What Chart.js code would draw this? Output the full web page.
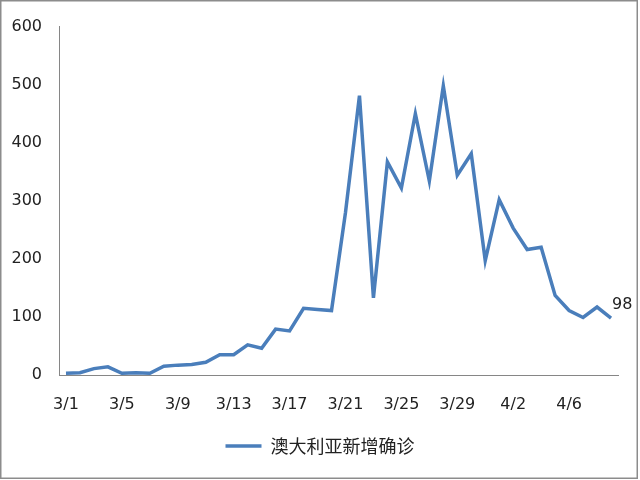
<!DOCTYPE html>
<html>
<head>
<meta charset="utf-8">
<script src="https://cdn.jsdelivr.net/npm/chart.js@4/dist/chart.umd.min.js"></script>
<style>
  html, body { margin: 0; padding: 0; background: #fff; }
  #wrap { width: 640px; height: 480px; }
</style>
</head>
<body>
<div id="wrap"><canvas id="lineChart" width="640" height="480"></canvas></div>
<script>
"use strict";

// dates 3/1 .. 4/9
const dates = [
  "3/1", "3/2", "3/3", "3/4", "3/5", "3/6", "3/7", "3/8", "3/9", "3/10",
  "3/11", "3/12", "3/13", "3/14", "3/15", "3/16", "3/17", "3/18", "3/19", "3/20",
  "3/21", "3/22", "3/23", "3/24", "3/25", "3/26", "3/27", "3/28", "3/29", "3/30",
  "3/31", "4/1", "4/2", "4/3", "4/4", "4/5", "4/6", "4/7", "4/8", "4/9",
];

// daily new confirmed cases
const newCases = [
  3, 4, 11, 14, 3, 4, 3, 15, 17, 18,
  22, 35, 35, 52, 46, 79, 76, 115, 113, 111,
  280, 481, 133, 367, 322, 450, 334, 498, 344, 381,
  197, 302, 253, 216, 220, 137, 111, 99, 117, 98,
];

const seriesName = "澳大利亚新增确诊";
const yMin = 0;
const yMax = 600;
const yStep = 100;

const lineColor = "#4a7ebb";
const textColor = "#222";
const axisColor = "#868686";

// label on the last point
const lastLabelPlugin = {
  id: "lastLabel",
  afterDatasetsDraw(chart) {
    const meta = chart.getDatasetMeta(0);
    const last = meta.data.length - 1;
    const pt = meta.data[last];
    const ctx = chart.ctx;
    ctx.save();
    ctx.font = "16px 'DejaVu Sans'";
    ctx.fillStyle = textColor;
    ctx.textAlign = "left";
    ctx.textBaseline = "middle";
    ctx.fillText(String(newCases[last]), pt.x + 1, pt.y - 13);
    ctx.restore();
  },
};

// centre the legend on the whole canvas, not only the padded box
const legendShiftPlugin = {
  id: "legendShift",
  afterLayout(chart) {
    if (chart.legend) {
      chart.legend.right += 22;
    }
  },
};

// white background + gray frame
const framePlugin = {
  id: "frame",
  beforeDraw(chart) {
    const ctx = chart.ctx;
    ctx.save();
    ctx.fillStyle = "#fff";
    ctx.fillRect(0, 0, chart.width, chart.height);
    ctx.restore();
  },
  afterDraw(chart) {
    const ctx = chart.ctx;
    ctx.save();
    ctx.strokeStyle = "#8c8c8c";
    ctx.lineWidth = 1.5;
    ctx.strokeRect(0.75, 0.75, 636.5, 477.5);
    ctx.restore();
  },
};

const container = document.getElementById("lineChart");

new Chart(container, {
  type: "line",
  data: {
    labels: dates,
    datasets: [
      {
        label: seriesName,
        data: newCases,
        borderColor: lineColor,
        backgroundColor: lineColor,
        borderWidth: 3.5,
        pointRadius: 0,
        tension: 0,
        fill: false,
      },
    ],
  },
  options: {
    responsive: false,
    animation: false,
    devicePixelRatio: 1,
    layout: {
      padding: { top: 25, right: 22, bottom: 15, left: 0 },
    },
    scales: {
      x: {
        offset: true,
        grid: { display: false, drawTicks: false },
        border: { display: true, color: axisColor, width: 1 },
        ticks: {
          autoSkip: false,
          maxRotation: 0,
          padding: 20,
          color: textColor,
          font: { family: "'DejaVu Sans'", size: 16 },
          callback: (value, index) => (index % 4 === 0 ? dates[index] : ""),
        },
        afterFit: (scale) => {
          scale.height = 52;
        },
      },
      y: {
        min: yMin,
        max: yMax,
        grid: { display: false, drawTicks: false },
        border: { display: true, color: axisColor, width: 1 },
        ticks: {
          stepSize: yStep,
          padding: 17,
          color: textColor,
          font: { family: "'DejaVu Sans'", size: 16 },
        },
        afterFit: (scale) => {
          scale.width = 59;
        },
      },
    },
    plugins: {
      legend: {
        position: "bottom",
        labels: {
          usePointStyle: true,
          pointStyle: "line",
          pointStyleWidth: 36,
          padding: 10,
          color: textColor,
          font: { family: "'Noto Sans CJK SC'", size: 18 },
        },
      },
      tooltip: { enabled: false },
    },
  },
  plugins: [framePlugin, legendShiftPlugin, lastLabelPlugin],
});
</script>
</body>
</html>
